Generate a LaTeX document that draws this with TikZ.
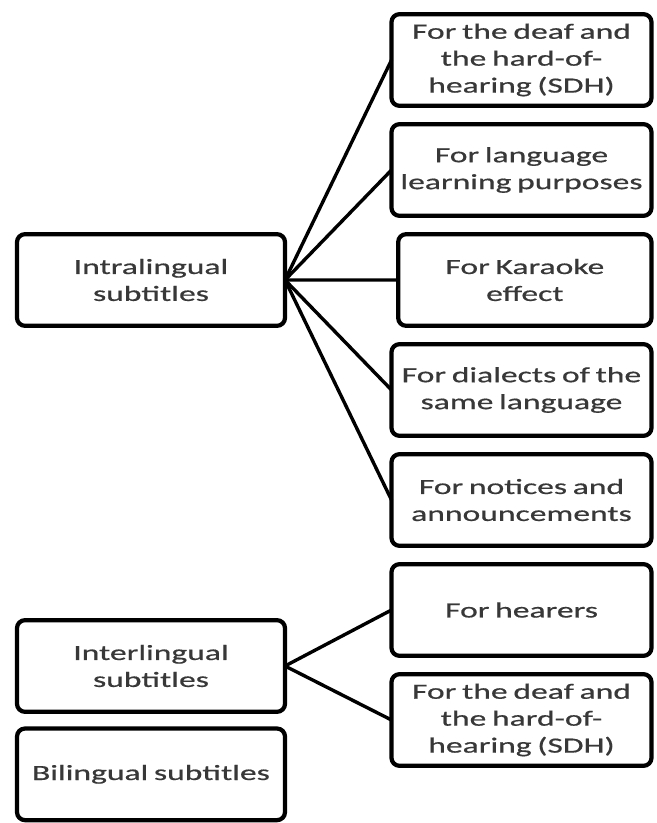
\documentclass[tikz,border=0pt]{standalone}
\usepackage{fontspec}
\setmainfont{Carlito}[FakeStretch=1.55,WordSpace=0.75,FakeBold=0.6]
\usetikzlibrary{positioning}

\begin{document}
\begin{tikzpicture}[
			node distance=0.55cm,
			kindnode/.style={
				rectangle,
				rounded corners=0.24cm,
				draw=black,
				line width=3.6pt,
				fill=white,
				minimum width=8.04cm,
				minimum height=2.75cm,
				inner sep=2pt,
				outer sep=0pt,
				align=center,
				text=black!78,
				font=\fontsize{18.5}{23}\selectfont
			},
			usenode/.style={
				rectangle,
				rounded corners=0.24cm,
				draw=black,
				line width=3.6pt,
				fill=white,
				minimum width=7.8cm,
				minimum height=2.75cm,
				inner sep=2pt,
				outer sep=0pt,
				align=center,
				text=black!78,
				font=\fontsize{18.5}{23}\selectfont
			},
			link/.style={line width=2.9pt,draw=black}
			]
			\useasboundingbox (0,0) rectangle (19.68,-24.69);
			
			\node[kindnode] (intra) at (4.53,-8.4) {Intralingual\\subtitles};
			\node[kindnode] (inter) at (4.53,-19.98) {Interlingual\\subtitles};
			\node[kindnode, below=0.5cm of inter] (bi) {Bilingual subtitles};
			
			\node[usenode] (sdh) at (15.645,-1.8) {For the deaf and\\the hard-of-\\hearing (SDH)};
			\node[usenode, below=of sdh] (learn) {For language\\learning purposes};
			\node[usenode, minimum width=7.6cm, below=of learn.south east, anchor=north east] (karaoke) {For Karaoke\\effect};
			\node[usenode, below=of karaoke.south east, anchor=north east] (dialect) {For dialects of the\\same language};
			\node[usenode, below=of dialect] (notice) {For notices and\\announcements};
			\node[usenode, below=of notice] (hear) {For hearers};
			\node[usenode, below=of hear] (sdhb) {For the deaf and\\the hard-of-\\hearing (SDH)};
			
			\draw[link] (intra.east) -- (sdh.west);
			\draw[link] (intra.east) -- (learn.west);
			\draw[link] (intra.east) -- (karaoke.west);
			\draw[link] (intra.east) -- (dialect.west);
			\draw[link] (intra.east) -- (notice.west);
			\draw[link] (inter.east) -- (hear.west);
			\draw[link] (inter.east) -- (sdhb.west);
		\end{tikzpicture}
\end{document}
